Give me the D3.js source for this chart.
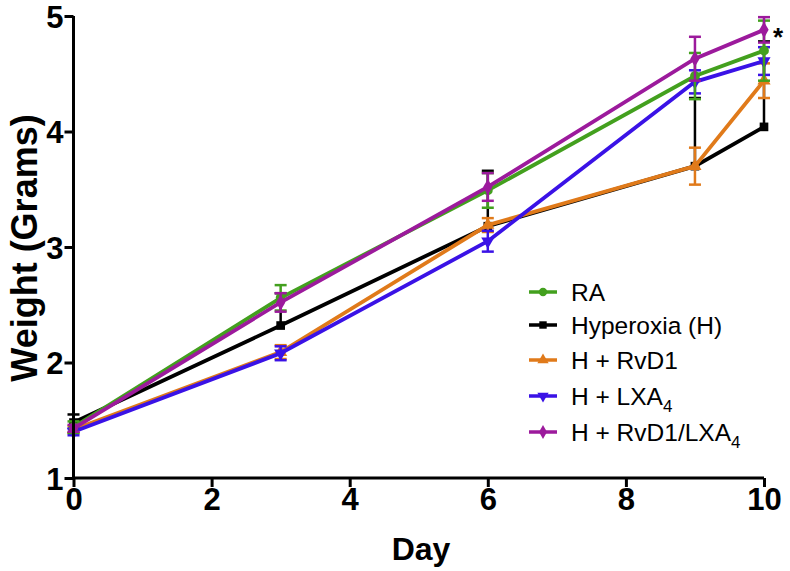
<!DOCTYPE html>
<html><head><meta charset="utf-8">
<script src="https://cdn.jsdelivr.net/npm/d3@7"></script>
<style>body{margin:0;background:#fff}svg{display:block}text{font-family:"Liberation Sans",Arial,sans-serif}</style>
</head><body><svg id="c" width="790" height="571"></svg>
<script>
const days = [0, 3, 6, 9, 10];
const seriesNames = ["RA", "Hyperoxia (H)", "H + RvD1", "H + LXA4", "H + RvD1/LXA4"];
const RA       = [1.44, 2.56, 3.49, 4.48, 4.70];
const RA_err   = [0.05, 0.11, 0.15, 0.20, 0.26];
const Hyp      = [1.48, 2.32, 3.18, 3.70, 4.04];
const Hyp_err  = [0.07, 0.28, 0.48, 0.59, 0.74];
const RvD1     = [1.42, 2.09, 3.19, 3.70, 4.44];
const RvD1_err = [0.03, 0.06, 0.06, 0.16, 0.15];
const LXA4     = [1.40, 2.08, 3.05, 4.43, 4.61];
const LXA4_err = [0.03, 0.06, 0.09, 0.10, 0.12];
const Combo    = [1.43, 2.52, 3.52, 4.63, 4.88];
const Combo_err= [0.03, 0.08, 0.12, 0.19, 0.11];
const xTicks = [0, 2, 4, 6, 8, 10];
const yTicks = [1, 2, 3, 4, 5];

const colors = ["#43a01e", "#000000", "#e07a1a", "#3a12e6", "#9c1a9c"];
const symbols = [d3.symbolCircle, d3.symbolSquare, d3.symbolTriangle, "down", d3.symbolDiamond];
const values = [RA, Hyp, RvD1, LXA4, Combo];
const errs = [RA_err, Hyp_err, RvD1_err, LXA4_err, Combo_err];
const upOnly = [false, true, false, false, false];

const svg = d3.select("#c");
const x = d3.scaleLinear().domain([0, 10]).range([73.5, 764]);
const y = d3.scaleLinear().domain([1, 5]).range([478, 16]);

function sym(i, size) {
  const s = symbols[i];
  if (s === "down") return d3.symbol(d3.symbolTriangle, size)();
  return d3.symbol(s, size)();
}

// series
const order = [1, 2, 3, 0, 4];
order.forEach(i => {
  const g = svg.append("g");
  const pts = days.map((d, k) => ({d, v: values[i][k], e: errs[i][k]}));
  pts.forEach(p => {
    const top = y(p.v + p.e), bot = upOnly[i] ? y(p.v) : y(p.v - p.e);
    g.append("line").attr("x1", x(p.d)).attr("x2", x(p.d)).attr("y1", top).attr("y2", bot)
      .attr("stroke", colors[i]).attr("stroke-width", 2.5);
    g.append("line").attr("x1", x(p.d) - 6).attr("x2", x(p.d) + 6).attr("y1", top).attr("y2", top)
      .attr("stroke", colors[i]).attr("stroke-width", 2.5);
    if (!upOnly[i]) g.append("line").attr("x1", x(p.d) - 6).attr("x2", x(p.d) + 6).attr("y1", bot).attr("y2", bot)
      .attr("stroke", colors[i]).attr("stroke-width", 2.5);
  });
  g.append("path").datum(pts)
    .attr("d", d3.line().x(p => x(p.d)).y(p => y(p.v)))
    .attr("fill", "none").attr("stroke", colors[i]).attr("stroke-width", 3.8);
  pts.forEach(p => {
    g.append("path").attr("d", sym(i, 75))
      .attr("transform", `translate(${x(p.d)},${y(p.v)})` + (symbols[i] === "down" ? " rotate(180)" : ""))
      .attr("fill", colors[i]);
  });
});

// axes
const ax = svg.append("g").attr("transform", "translate(0,478)")
  .call(d3.axisBottom(x).tickValues(xTicks).tickSize(9).tickSizeOuter(0).tickFormat(d3.format("d")));
const ay = svg.append("g").attr("transform", "translate(73.5,0)")
  .call(d3.axisLeft(y).tickValues(yTicks).tickSize(9).tickSizeOuter(0).tickFormat(d3.format("d")));
[ax, ay].forEach(a => {
  a.selectAll("path,line").attr("stroke", "#000").attr("stroke-width", 3);
  a.selectAll("text").attr("font-size", 31).attr("font-weight", "bold").attr("fill", "#000")
    .attr("font-family", '"Liberation Sans",Arial,sans-serif');
});
ax.select(".domain").attr("d", `M${x(0)},0H${x(10)}`);
ay.select(".domain").attr("d", `M0,${y(1)}V${y(5)}`);
ax.selectAll("text").attr("dy", "0.72em").attr("y", 10);
ay.selectAll("text").attr("x", -10).attr("dy", "0.36em");

// axis titles
svg.append("text").attr("x", 421).attr("y", 560).attr("text-anchor", "middle")
  .attr("font-size", 32).attr("font-weight", "bold").text("Day");
svg.append("text").attr("transform", "translate(37,248) rotate(-90)").attr("text-anchor", "middle")
  .attr("font-size", 36).attr("font-weight", "bold").text("Weight (Grams)");

// asterisk
svg.append("text").attr("x", 778).attr("y", 46).attr("text-anchor", "middle")
  .attr("font-size", 26).attr("font-weight", "bold").text("*");

// legend
const legY = [292, 325, 360, 396, 432];
seriesNames.forEach((n, i) => {
  const g = svg.append("g").attr("transform", `translate(0,${legY[i]})`);
  g.append("line").attr("x1", 529).attr("x2", 557).attr("stroke", colors[i]).attr("stroke-width", 3.5);
  g.append("path").attr("d", sym(i, 55))
    .attr("transform", "translate(543,0)" + (symbols[i] === "down" ? " rotate(180)" : "")).attr("fill", colors[i]);
  const t = g.append("text").attr("x", 571).attr("y", 9).attr("font-size", 24.5);
  const m = n.match(/^(.*LXA)4$/);
  if (m) {
    t.append("tspan").text(m[1]);
    t.append("tspan").attr("font-size", 17).attr("dy", 7).text("4");
  } else t.text(n);
});
</script></body></html>
